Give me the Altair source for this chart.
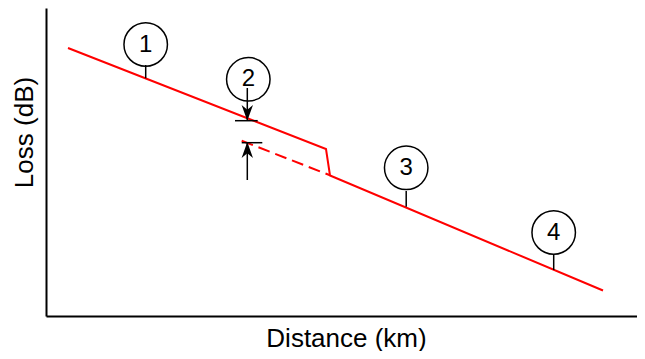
import altair as alt
import pandas as pd

# Schematic fibre loss trace (distance in km, loss in dB)
trace_km = [2.2, 28.0, 28.4, 55.7]
trace_db = [26.8, 16.7, 14.05, 2.55]

# dashed extrapolation of the fibre before the splice
ext_km = [19.57, 28.33]
ext_db = [17.53, 14.1]

# numbered call-outs
marker_label = ["1", "2", "3", "4"]
marker_km = [9.97, 20.23, 36.02, 50.77]
marker_db = [27.15, 23.67, 14.82, 8.35]

# pins from call-outs to the trace
pin_km = [9.97, 20.13, 20.13, 36.02, 50.77]
pin_top = [25.1, 22.8, 17.33, 12.5, 6.1]
pin_bottom = [23.77, 19.53, 13.6, 10.93, 4.6]

# level bars of the loss step
bar_db = [19.53, 17.33]
bar_km1 = [18.9, 19.57]
bar_km2 = [21.17, 21.63]

# arrowheads of the loss step
arrow_km = [20.13, 20.13]
arrow_db = [20.32, 16.6]
arrow_dir = ["down", "up"]

FONT = "Liberation Sans"
xs = alt.Scale(domain=[0, 59.1], nice=False, zero=False)
ys = alt.Scale(domain=[0, 30.8], nice=False, zero=False)

trace = pd.DataFrame({"km": trace_km, "db": trace_db, "o": range(len(trace_km))})
ext = pd.DataFrame({"km": ext_km, "db": ext_db})
markers = pd.DataFrame({"label": marker_label, "km": marker_km, "db": marker_db})
pins = pd.DataFrame({"km": pin_km, "top": pin_top, "bottom": pin_bottom})
bars = pd.DataFrame({"db": bar_db, "k1": bar_km1, "k2": bar_km2})
arrows = pd.DataFrame({"km": arrow_km, "db": arrow_db, "dir": arrow_dir})

ax_x = alt.Axis(ticks=False, labels=False, grid=False, domainColor="black",
                domainWidth=2, title="Distance (km)", titleFont=FONT,
                titleFontSize=26, titleFontWeight="normal", titleColor="black",
                titleX=300, titleY=30, titleBaseline="alphabetic", titleAlign="center")
ax_y = alt.Axis(ticks=False, labels=False, grid=False, domainColor="black",
                domainWidth=2, title="Loss (dB)", titleFont=FONT,
                titleFontSize=26, titleFontWeight="normal", titleColor="black",
                titleX=-14, titleY=124, titleBaseline="alphabetic", titleAlign="center",
                titleAngle=270)


def X(f):
    return alt.X(f, scale=xs, axis=ax_x)


def Y(f):
    return alt.Y(f, scale=ys, axis=ax_y)


line = alt.Chart(trace).mark_line(color="#ff0000", strokeWidth=2).encode(
    x=X("km:Q"), y=Y("db:Q"), order="o:Q",
)

dash = alt.Chart(ext).mark_line(color="#ff0000", strokeWidth=2, strokeDash=[12, 6]).encode(
    x=X("km:Q"), y=Y("db:Q"),
)

pin = alt.Chart(pins).mark_rule(color="black", strokeWidth=1.5).encode(
    x=X("km:Q"), y=Y("top:Q"), y2="bottom:Q",
)

bar = alt.Chart(bars).mark_rule(color="black", strokeWidth=1.5).encode(
    x=X("k1:Q"), x2="k2:Q", y=Y("db:Q"),
)

down_path = "M0,1L-0.72,-1L0,-0.4L0.72,-1Z"
up_path = "M0,-1L-0.72,1L0,0.4L0.72,1Z"
arrow = alt.Chart(arrows).mark_point(filled=True, color="black", size=250, opacity=1).encode(
    x=X("km:Q"), y=Y("db:Q"),
    shape=alt.Shape("dir:N", scale=alt.Scale(domain=["down", "up"], range=[down_path, up_path]), legend=None),
)

circle = alt.Chart(markers).mark_point(shape="circle", filled=False, color="black",
                                        size=1890, strokeWidth=1.5, opacity=1).encode(
    x=X("km:Q"), y=Y("db:Q"),
)

label = alt.Chart(markers).mark_text(font=FONT, fontSize=24, color="black",
                                      baseline="middle", align="center").encode(
    x=X("km:Q"), y=Y("db:Q"), text="label:N",
)

chart = alt.layer(line, dash, pin, bar, arrow, circle, label).properties(
    width=591, height=308,
    autosize=alt.AutoSizeParams(type="none"),
    padding={"left": 38, "top": 0, "right": 0, "bottom": 35},
).configure_view(stroke=None)

chart.save("out.html", embed_options={"renderer": "svg", "actions": False})
